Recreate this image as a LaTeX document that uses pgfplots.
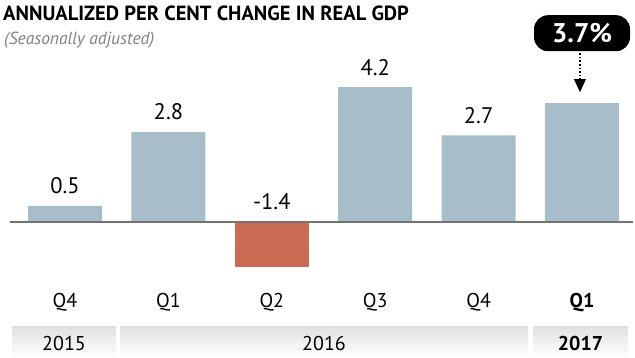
\documentclass[border=0pt]{standalone}
\usepackage{pgfplots}
\pgfplotsset{compat=1.18}
\usepackage{fontspec}
\setmainfont{PT Sans}
\usetikzlibrary{arrows.meta}
\definecolor{barblue}{RGB}{167,189,201}
\definecolor{barred}{RGB}{201,107,83}
\definecolor{subgrey}{RGB}{130,130,130}
\begin{document}
\begin{tikzpicture}[x=1pt,y=1pt]
\useasboundingbox (0,0) rectangle (635,357);
% title
\node[anchor=base west,inner sep=0pt,font=\fontsize{20.5}{22}\selectfont\bfseries] at (3,336) {ANNUALIZED PER CENT CHANGE IN REAL GDP};
\node[anchor=base west,inner sep=0pt,font=\fontsize{17.5}{19}\selectfont\itshape,text=subgrey] at (4,312) {(Seasonally adjusted)};
% year boxes
\shade[top color=black!12,bottom color=white] (12,0) rectangle (116,31);
\shade[top color=black!12,bottom color=white] (120,0) rectangle (528,31);
\shade[top color=black!12,bottom color=white] (533,0) rectangle (628,31);
\node[font=\fontsize{20}{21}\selectfont] at (64,14) {2015};
\node[font=\fontsize{20}{21}\selectfont] at (324,14) {2016};
\node[font=\fontsize{20}{21}\selectfont\bfseries] at (580.5,14) {2017};
\begin{axis}[
  at={(10pt,54.75pt)}, anchor=south west,
  scale only axis, width=623pt, height=224.75pt,
  xmin=-0.532, xmax=5.493, ymin=-2.5, ymax=4.5,
  axis x line*=bottom, axis y line=none,
  axis line style={draw=none},
  major tick length=0pt,
  xtick={0,1,2,3,4,5},
  xticklabels={Q4,Q1,Q2,Q3,Q4,\textbf{Q1}},
  ytick=\empty,
  ybar, bar width=74pt, bar shift=0pt,
  clip=false,
  xticklabel style={anchor=center,font=\fontsize{20}{21}\selectfont},
]
\addplot[fill=barblue,draw=none] coordinates {(0,0.5) (1,2.8) (3,4.2) (4,2.7) (5,3.7)};
\addplot[fill=barred,draw=none] coordinates {(2,-1.4)};
\draw[black!55,line width=1.5pt] (axis cs:-0.532,0) -- (axis cs:5.493,0);
\addplot[draw=none,mark=none,point meta=explicit symbolic,
  nodes near coords,
  every node near coord/.style={anchor=center,yshift=20pt,font=\fontsize{22.5}{24}\selectfont,text=black}]
  coordinates {(0,0.5)[0.5] (1,2.8)[2.8] (2,0)[-1.4] (3,4.2)[4.2] (4,2.7)[2.7]};
\addplot[draw=none,mark=none,point meta=explicit symbolic,
  nodes near coords,
  every node near coord/.style={anchor=center,yshift=70pt,fill=black,text=white,rounded corners=14pt,
     minimum width=96pt,minimum height=36pt,inner sep=0pt,font=\fontsize{27}{28}\selectfont\bfseries}]
  coordinates {(5,3.7)[3.7\%]};
\draw[black,line width=1.6pt,dotted] (axis cs:4.98,3.7) ++(0pt,50pt) -- ++(0pt,-28pt);
\fill[black] (axis cs:4.98,3.7) ++(-6pt,24pt) -- ++(12pt,0pt) -- ++(-6pt,-13pt) -- cycle;
\end{axis}
\end{tikzpicture}
\end{document}
